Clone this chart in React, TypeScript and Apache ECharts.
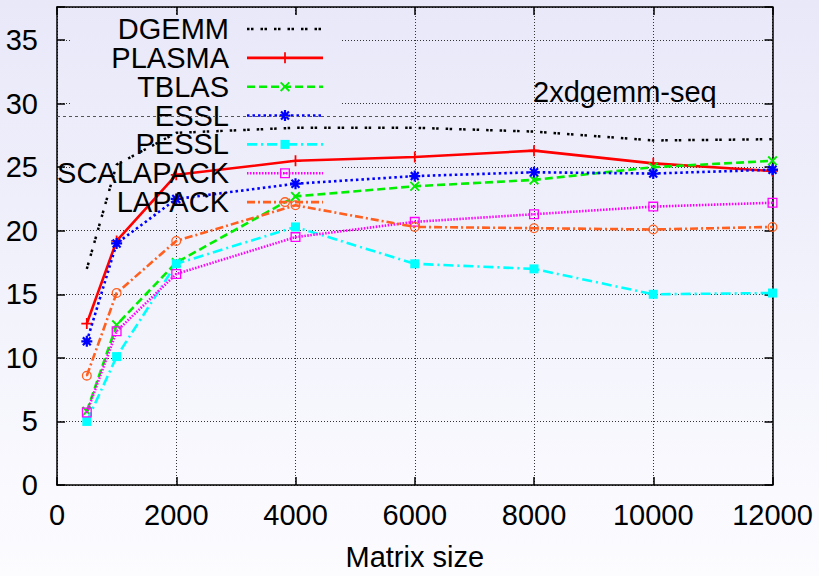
import React, { useEffect, useRef } from 'react';
import * as echarts from 'echarts';

// ---------- data ----------
const matrixSizes = [500, 1000, 2000, 4000, 6000, 8000, 10000, 12000];
const seriesNames = ['DGEMM', 'PLASMA', 'TBLAS', 'ESSL', 'PESSL', 'SCALAPACK', 'LAPACK'];
const dgemm = [17.0, 25.2, 27.7, 28.1, 28.1, 27.8, 27.1, 27.2];
const plasma = [12.7, 19.2, 24.4, 25.5, 25.8, 26.3, 25.3, 24.7];
const tblas = [5.8, 12.6, 17.5, 22.7, 23.5, 24.0, 25.0, 25.5];
const essl = [11.3, 19.0, 22.5, 23.7, 24.3, 24.6, 24.5, 24.8];
const pessl = [5.0, 10.1, 17.4, 20.3, 17.4, 17.0, 15.0, 15.1];
const scalapack = [5.7, 12.1, 16.6, 19.5, 20.7, 21.3, 21.9, 22.2];
const lapack = [8.6, 15.1, 19.2, 22.0, 20.3, 20.2, 20.1, 20.3];
const seriesValues = [dgemm, plasma, tblas, essl, pessl, scalapack, lapack];
const seqLevel = 29;
const seqLabel = '2xdgemm-seq';
const xAxisTitle = 'Matrix size';
const xMin = 0;
const xMax = 12000;
const xStep = 2000;
const yMin = 0;
const yMax = 37.6;
const yStep = 5;

// ---------- styles ----------
const FONT = "'Liberation Sans', Arial, Helvetica, sans-serif";
const FS = 29;
const markerPaths: Record<string, string> = {
  plus: 'M-0.8,-5H0.8V-0.8H5V0.8H0.8V5H-0.8V0.8H-5V-0.8H-0.8Z',
  cross: 'M-3.03,-4.17L4.17,3.03L3.03,4.17L-4.17,-3.03Z M3.03,-4.17L4.17,-3.03L-3.03,4.17L-4.17,3.03Z',
  star: 'M-1,-5H1V-1H5V1H1V5H-1V1H-5V-1H-1Z M-2.89,-4.31L4.31,2.89L2.89,4.31L-4.31,-2.89Z M2.89,-4.31L4.31,-2.89L-2.89,4.31L-4.31,2.89Z',
  square: 'M-5,-5H5V5H-5Z',
  openSquare: 'M-5,-5H5V5H-5Z M-3.7,-3.7V3.7H3.7V-3.7Z M-0.8,-0.8H0.8V0.8H-0.8Z',
  openCircle: 'M-5,0A5,5,0,1,1,5,0A5,5,0,1,1,-5,0Z M-3.7,0A3.7,3.7,0,1,0,3.7,0A3.7,3.7,0,1,0,-3.7,0Z M-0.8,0A0.8,0.8,0,1,1,0.8,0A0.8,0.8,0,1,1,-0.8,0Z',
};
const markerExtent: Record<string, number> = {
  plus: 10, cross: 8.34, star: 10, square: 10, openSquare: 10, openCircle: 10,
};
const seriesStyles = [
  { color: '#000000', dash: [2.5, 1.5, 2.5, 7], width: 2.5, marker: null as string | null, size: 0 },
  { color: '#ff0000', dash: 'solid' as any, width: 2.6, marker: 'plus', size: 11 },
  { color: '#00ee00', dash: [8, 4], width: 2.6, marker: 'cross', size: 10 },
  { color: '#0000ff', dash: [2.5, 3], width: 2.6, marker: 'star', size: 11 },
  { color: '#00ffff', dash: [10, 4, 2, 4], width: 2.6, marker: 'square', size: 9 },
  { color: '#ff00ff', dash: [1.5, 1.5], width: 2.6, marker: 'openSquare', size: 10 },
  { color: '#ff5f1f', dash: [8, 3, 2, 3], width: 2.6, marker: 'openCircle', size: 10 },
];
const BG_TOP = '#e8e8f9';
const BG_BOTTOM = '#fcfcff';

let registered = false;
function registerMarkers() {
  if (registered) return;
  registered = true;
  Object.keys(markerPaths).forEach((k) => {
    echarts.graphic.registerShape('mk_' + k, echarts.graphic.extendPath(markerPaths[k], {}) as any);
  });
}

export default function App() {
  const ref = useRef<HTMLDivElement>(null);
  useEffect(() => {
    if (!ref.current) return;
    registerMarkers();
    const chart = echarts.init(ref.current, undefined, { renderer: 'svg' });

    const globalGrad = {
      type: 'linear', x: 0, y: 0, x2: 0, y2: 576, global: true,
      colorStops: [{ offset: 0, color: BG_TOP }, { offset: 1, color: BG_BOTTOM }],
    };

    const frameLine = { show: true, onZero: false, lineStyle: { color: '#000', width: 1.5 } };
    const frameTick = { show: true, inside: true, length: 8, lineStyle: { color: '#000', width: 1.5 } };
    const gridLine = { show: true, lineStyle: { color: '#333', width: 1, type: [1, 2] } };
    const labelText = { fontSize: FS, color: '#000', fontFamily: FONT };

    const series: any[] = seriesNames.map((name, i) => {
      const st = seriesStyles[i];
      const s: any = {
        name,
        type: 'line',
        data: matrixSizes.map((x, j) => [x, seriesValues[i][j]]),
        symbol: st.marker ? 'path://' + markerPaths[st.marker] : 'none',
        symbolSize: st.size,
        showSymbol: !!st.marker,
        lineStyle: { color: st.color, width: st.width, type: st.dash },
        itemStyle: { color: st.color, borderWidth: 0 },
        z: 2 + i * 0.01,
        silent: true,
      };
      if (i === 0) {
        s.markLine = {
          silent: true,
          symbol: 'none',
          label: { show: false },
          lineStyle: { color: '#555', width: 1, type: [3, 3] },
          data: [{ yAxis: seqLevel }],
        };
      }
      return s;
    });

    const rowY0 = 29;
    const rowStep = 28.85;
    const legendGraphics: any[] = [];
    seriesNames.forEach((name, i) => {
      const st = seriesStyles[i];
      const y = rowY0 + i * rowStep;
      legendGraphics.push({
        type: 'text', x: 229, y, z: 3, silent: true,
        style: { text: name, fill: '#000', fontSize: FS, fontFamily: FONT, align: 'right', verticalAlign: 'middle' },
      });
      legendGraphics.push({
        type: 'line', z: 3, silent: true,
        shape: { x1: 247, y1: y, x2: 323, y2: y },
        style: { stroke: st.color, lineWidth: st.width, lineDash: Array.isArray(st.dash) ? st.dash : null },
      });
      if (st.marker) {
        const sc = st.size / markerExtent[st.marker];
        legendGraphics.push({
          type: 'mk_' + st.marker, x: 285, y, scaleX: sc, scaleY: sc, z: 3, silent: true,
          style: { fill: st.color },
        });
      }
    });

    chart.setOption({
      animation: false,
      backgroundColor: 'transparent',
      grid: { left: 57, top: 7, width: 715.5, height: 485 },
      xAxis: [
        {
          type: 'value', min: xMin, max: xMax, interval: xStep, position: 'bottom',
          axisLine: frameLine, axisTick: frameTick, splitLine: gridLine,
          axisLabel: { ...labelText, margin: 15, formatter: (v: number) => String(v) },
          name: xAxisTitle, nameLocation: 'middle', nameGap: 57,
          nameTextStyle: { ...labelText },
        },
        {
          type: 'value', min: xMin, max: xMax, interval: xStep, position: 'top',
          axisLine: frameLine, axisTick: frameTick, splitLine: { show: false },
          axisLabel: { show: false },
        },
      ],
      yAxis: [
        {
          type: 'value', min: yMin, max: yMax, interval: yStep, position: 'left',
          axisLine: frameLine, axisTick: frameTick, splitLine: gridLine,
          axisLabel: {
            ...labelText, margin: 19,
            formatter: (v: number) => (Math.abs(v % yStep) < 1e-9 ? String(v) : ''),
          },
        },
        {
          type: 'value', min: yMin, max: yMax, interval: yStep, position: 'right',
          axisLine: frameLine, axisTick: frameTick, splitLine: { show: false },
          axisLabel: { show: false },
        },
      ],
      graphic: [
        {
          type: 'rect', z: 1, silent: true,
          shape: { x: 72, y: 16, width: 270, height: 198 },
          style: { fill: globalGrad },
        },
        {
          type: 'text', x: 533, y: 92, z: 3, silent: true,
          style: { text: seqLabel, fill: '#000', fontSize: FS, fontFamily: FONT, align: 'left', verticalAlign: 'middle' },
        },
        ...legendGraphics,
      ],
      series,
    });
    return () => chart.dispose();
  }, []);

  return (
    <div
      ref={ref}
      style={{
        position: 'fixed', left: 0, top: 0, width: 819, height: 576,
        background: `linear-gradient(to bottom, ${BG_TOP}, ${BG_BOTTOM})`,
      }}
    />
  );
}
